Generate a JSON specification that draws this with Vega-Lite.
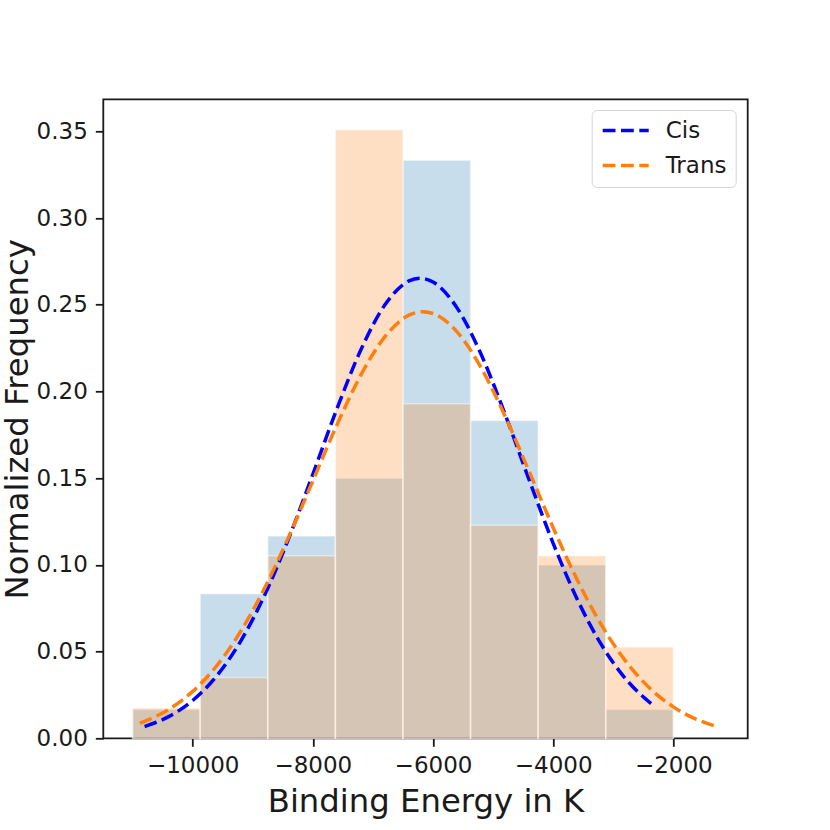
{
  "$schema": "https://vega.github.io/schema/vega-lite/v6.json",
  "width": 644.4,
  "height": 639,
  "autosize": {"type": "none"},
  "padding": {"left": 103.3, "top": 99.3, "right": 82.3, "bottom": 91.7},
  "background": "white",
  "config": {
    "font": "DejaVu Sans",
    "view": {"stroke": "#1a1a1a", "strokeWidth": 1.8},
    "axis": {
      "domain": false,
      "grid": false,
      "tickColor": "#1a1a1a",
      "tickWidth": 1.8,
      "tickSize": 8,
      "labelFont": "DejaVu Sans",
      "labelFontSize": 23,
      "labelColor": "#1a1a1a",
      "labelPadding": 8,
      "titleFont": "DejaVu Sans",
      "titleFontSize": 32.3,
      "titleFontWeight": "normal",
      "titleColor": "#1a1a1a"
    }
  },
  "datasets": {
    "cis_bars": [
      {"start": -11000, "end": -9875, "freq": 0.01667},
      {"start": -9875, "end": -8750, "freq": 0.08333},
      {"start": -8750, "end": -7625, "freq": 0.11667},
      {"start": -7625, "end": -6500, "freq": 0.15},
      {"start": -6500, "end": -5375, "freq": 0.33333},
      {"start": -5375, "end": -4250, "freq": 0.18333},
      {"start": -4250, "end": -3125, "freq": 0.1},
      {"start": -3125, "end": -2000, "freq": 0.01667}
    ],
    "trans_bars": [
      {"start": -11000, "end": -9875, "freq": 0.01754},
      {"start": -9875, "end": -8750, "freq": 0.03509},
      {"start": -8750, "end": -7625, "freq": 0.10526},
      {"start": -7625, "end": -6500, "freq": 0.35088},
      {"start": -6500, "end": -5375, "freq": 0.19298},
      {"start": -5375, "end": -4250, "freq": 0.12281},
      {"start": -4250, "end": -3125, "freq": 0.10526},
      {"start": -3125, "end": -2000, "freq": 0.05263}
    ],
    "curves": [
      {"series": "Cis", "energy": -10800, "freq": 0.00677},
      {"series": "Cis", "energy": -10400, "freq": 0.01249},
      {"series": "Cis", "energy": -10000, "freq": 0.02179},
      {"series": "Cis", "energy": -9600, "freq": 0.03595},
      {"series": "Cis", "energy": -9200, "freq": 0.05608},
      {"series": "Cis", "energy": -8800, "freq": 0.08273},
      {"series": "Cis", "energy": -8400, "freq": 0.11542},
      {"series": "Cis", "energy": -8000, "freq": 0.15227},
      {"series": "Cis", "energy": -7600, "freq": 0.18996},
      {"series": "Cis", "energy": -7200, "freq": 0.2241},
      {"series": "Cis", "energy": -6800, "freq": 0.25001},
      {"series": "Cis", "energy": -6400, "freq": 0.26375},
      {"series": "Cis", "energy": -6217, "freq": 0.2653},
      {"series": "Cis", "energy": -6000, "freq": 0.26313},
      {"series": "Cis", "energy": -5600, "freq": 0.24823},
      {"series": "Cis", "energy": -5200, "freq": 0.22146},
      {"series": "Cis", "energy": -4800, "freq": 0.18683},
      {"series": "Cis", "energy": -4400, "freq": 0.14905},
      {"series": "Cis", "energy": -4000, "freq": 0.11244},
      {"series": "Cis", "energy": -3600, "freq": 0.08022},
      {"series": "Cis", "energy": -3200, "freq": 0.05412},
      {"series": "Cis", "energy": -2800, "freq": 0.03452},
      {"series": "Cis", "energy": -2360, "freq": 0.01974},
      {"series": "Trans", "energy": -10880, "freq": 0.00873},
      {"series": "Trans", "energy": -10400, "freq": 0.01665},
      {"series": "Trans", "energy": -10000, "freq": 0.02704},
      {"series": "Trans", "energy": -9600, "freq": 0.04185},
      {"series": "Trans", "energy": -9200, "freq": 0.06173},
      {"series": "Trans", "energy": -8800, "freq": 0.08679},
      {"series": "Trans", "energy": -8400, "freq": 0.11628},
      {"series": "Trans", "energy": -8000, "freq": 0.14847},
      {"series": "Trans", "energy": -7600, "freq": 0.18068},
      {"series": "Trans", "energy": -7200, "freq": 0.20955},
      {"series": "Trans", "energy": -6800, "freq": 0.23162},
      {"series": "Trans", "energy": -6400, "freq": 0.244},
      {"series": "Trans", "energy": -6167, "freq": 0.246},
      {"series": "Trans", "energy": -6000, "freq": 0.24497},
      {"series": "Trans", "energy": -5600, "freq": 0.2344},
      {"series": "Trans", "energy": -5200, "freq": 0.21375},
      {"series": "Trans", "energy": -4800, "freq": 0.18577},
      {"series": "Trans", "energy": -4400, "freq": 0.15387},
      {"series": "Trans", "energy": -4000, "freq": 0.12146},
      {"series": "Trans", "energy": -3600, "freq": 0.09138},
      {"series": "Trans", "energy": -3200, "freq": 0.06552},
      {"series": "Trans", "energy": -2800, "freq": 0.04477},
      {"series": "Trans", "energy": -2400, "freq": 0.02916},
      {"series": "Trans", "energy": -2000, "freq": 0.0181},
      {"series": "Trans", "energy": -1600, "freq": 0.01071},
      {"series": "Trans", "energy": -1250, "freq": 0.0065}
    ]
  },
  "encoding": {
    "x": {
      "field": "start",
      "type": "quantitative",
      "title": "Binding Energy in K",
      "scale": {"domain": [-11487.5, -762.5], "nice": false, "zero": false},
      "axis": {"values": [-10000, -8000, -6000, -4000, -2000], "format": "d", "labelFlush": false, "titlePadding": 8}
    },
    "y": {
      "field": "freq",
      "type": "quantitative",
      "title": "Normalized Frequency",
      "scale": {"domain": [0, 0.3685], "nice": false},
      "axis": {"values": [0, 0.05, 0.1, 0.15, 0.2, 0.25, 0.3, 0.35], "format": ".2f", "labelFlush": false, "titlePadding": 2}
    }
  },
  "layer": [
    {
      "data": {"name": "cis_bars"},
      "mark": {"type": "bar", "fill": "#1f77b4", "fillOpacity": 0.25, "stroke": "white", "strokeOpacity": 0.45, "strokeWidth": 1.5},
      "encoding": {
        "x2": {"field": "end"},
        "y2": {"datum": 0}
      }
    },
    {
      "data": {"name": "trans_bars"},
      "mark": {"type": "bar", "fill": "#ff7f0e", "fillOpacity": 0.25, "stroke": "white", "strokeOpacity": 0.45, "strokeWidth": 1.5},
      "encoding": {
        "x2": {"field": "end"},
        "y2": {"datum": 0}
      }
    },
    {
      "data": {"name": "curves"},
      "mark": {"type": "line", "strokeDash": [12.8, 5.5], "strokeWidth": 3.5, "interpolate": "monotone"},
      "encoding": {
        "x": {"field": "energy", "type": "quantitative", "title": "Binding Energy in K"},
        "color": {
          "field": "series",
          "type": "nominal",
          "scale": {"domain": ["Cis", "Trans"], "range": ["#0000ff", "#ff7f0e"]},
          "legend": {
            "title": null,
            "orient": "none",
            "legendX": 488.4,
            "legendY": 10.7,
            "padding": 9,
            "rowPadding": 11,
            "clipHeight": 23,
            "labelFontSize": 23,
            "labelColor": "#1a1a1a",
            "labelOffset": 15,
            "symbolType": "stroke",
            "symbolSize": 2116,
            "symbolStrokeWidth": 3.5,
            "symbolDash": [12.8, 5.5],
            "strokeColor": "#d6d6d6",
            "fillColor": "rgba(255,255,255,0.8)",
            "cornerRadius": 5
          }
        }
      }
    }
  ]
}
